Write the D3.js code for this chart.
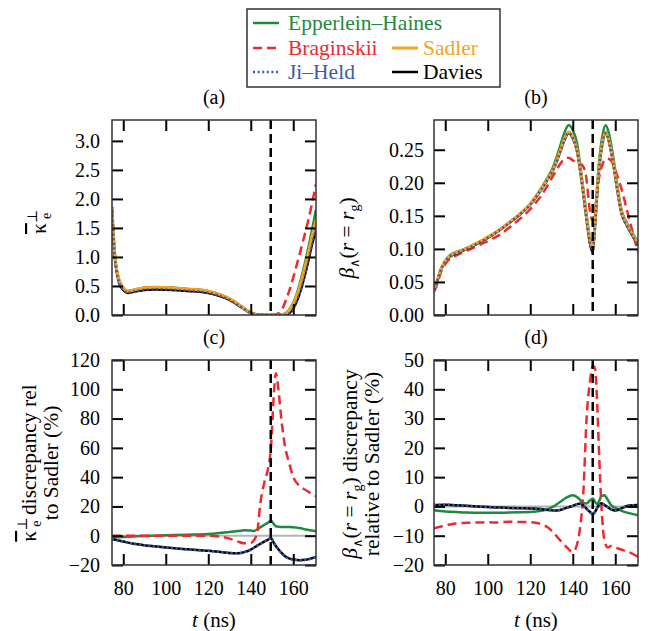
<!DOCTYPE html>
<html>
<head>
<meta charset="utf-8">
<script src="https://cdn.jsdelivr.net/npm/d3@7"></script>
<style>
  body { margin: 0; background: #fff; }
  #chart text { font-family: "Liberation Serif", "Times New Roman", Times, "DejaVu Serif", serif; }
</style>
</head>
<body>
<svg id="chart" width="651" height="631"></svg>
<script>
// ---- data ----
const xTicks = [80, 100, 120, 140, 160];
const tCut = 149.4; // vertical dashed marker

// (a) kappa_e perp
const tA = [74.7, 76, 77, 78, 80, 82, 85, 90, 95, 100, 110, 120, 125, 130, 134, 137, 140, 143, 146, 150, 153, 155, 157, 159, 161, 163, 165, 167, 169, 170.7];
const eppA = [1.87, 1.06, 0.77, 0.61, 0.475, 0.415, 0.435, 0.47, 0.48, 0.475, 0.45, 0.41, 0.36, 0.28, 0.19, 0.11, 0.04, 0.01, 0, 0, 0, 0.01, 0.05, 0.14, 0.3, 0.53, 0.82, 1.14, 1.5, 1.82];
const bragA = [1.86, 1.05, 0.76, 0.6, 0.47, 0.41, 0.43, 0.47, 0.48, 0.475, 0.45, 0.41, 0.36, 0.28, 0.19, 0.11, 0.04, 0.01, 0, 0, 0.03, 0.12, 0.3, 0.52, 0.78, 1.05, 1.33, 1.62, 1.95, 2.26];
const sadA = [1.85, 1.05, 0.76, 0.6, 0.47, 0.41, 0.43, 0.47, 0.48, 0.475, 0.45, 0.41, 0.36, 0.28, 0.19, 0.11, 0.04, 0.01, 0, 0, 0, 0.01, 0.04, 0.12, 0.27, 0.48, 0.75, 1.05, 1.38, 1.64];
const jiA = [1.8, 1.0, 0.72, 0.56, 0.435, 0.385, 0.405, 0.435, 0.445, 0.44, 0.42, 0.385, 0.335, 0.26, 0.17, 0.1, 0.035, 0.008, 0, 0, 0, 0, 0.01, 0.06, 0.18, 0.37, 0.62, 0.92, 1.24, 1.47];
const davA = [1.8, 1.0, 0.72, 0.56, 0.43, 0.38, 0.4, 0.43, 0.44, 0.435, 0.415, 0.38, 0.33, 0.26, 0.17, 0.1, 0.035, 0.008, 0, 0, 0, 0, 0.01, 0.06, 0.18, 0.37, 0.62, 0.92, 1.24, 1.45];

// (b) beta(r = r_g)
const tB = [74.7, 76, 78, 80, 82, 85, 90, 95, 100, 105, 110, 115, 120, 125, 128, 131, 134, 136, 138, 140, 142, 144, 146, 148, 149.3, 150.5, 152, 154, 155.5, 157, 159, 161, 163, 165, 167, 170.7];
const eppB = [0.04, 0.05, 0.07, 0.082, 0.09, 0.095, 0.101, 0.108, 0.117, 0.127, 0.139, 0.152, 0.168, 0.191, 0.207, 0.226, 0.255, 0.275, 0.287, 0.28, 0.26, 0.215, 0.165, 0.118, 0.105, 0.145, 0.218, 0.272, 0.287, 0.275, 0.24, 0.195, 0.158, 0.142, 0.13, 0.11];
const bragB = [0.035, 0.045, 0.065, 0.077, 0.085, 0.09, 0.097, 0.104, 0.112, 0.12, 0.132, 0.145, 0.16, 0.18, 0.195, 0.212, 0.228, 0.236, 0.238, 0.234, 0.23, 0.228, 0.215, 0.16, 0.143, 0.16, 0.2, 0.228, 0.236, 0.236, 0.228, 0.21, 0.19, 0.165, 0.14, 0.095];
const sadB = [0.04, 0.05, 0.07, 0.082, 0.089, 0.094, 0.101, 0.109, 0.118, 0.128, 0.14, 0.153, 0.168, 0.19, 0.205, 0.222, 0.248, 0.266, 0.277, 0.27, 0.25, 0.21, 0.16, 0.115, 0.1, 0.14, 0.21, 0.262, 0.277, 0.265, 0.232, 0.19, 0.155, 0.14, 0.128, 0.108];
const jiB = [0.039, 0.049, 0.069, 0.081, 0.088, 0.093, 0.1, 0.108, 0.117, 0.127, 0.139, 0.152, 0.167, 0.189, 0.204, 0.221, 0.246, 0.264, 0.275, 0.268, 0.248, 0.207, 0.157, 0.11, 0.096, 0.136, 0.207, 0.26, 0.275, 0.263, 0.23, 0.188, 0.153, 0.138, 0.126, 0.106];
const davB = [0.039, 0.049, 0.069, 0.081, 0.088, 0.093, 0.1, 0.108, 0.117, 0.127, 0.139, 0.152, 0.167, 0.189, 0.204, 0.221, 0.246, 0.264, 0.275, 0.268, 0.248, 0.207, 0.157, 0.11, 0.095, 0.136, 0.207, 0.26, 0.275, 0.263, 0.23, 0.188, 0.153, 0.138, 0.126, 0.106];

// (c) kappa discrepancy relative to Sadler (%)
const tC = [74.7, 80, 85, 90, 100, 110, 120, 125, 130, 134, 137, 140, 141.5, 143, 144.5, 146.5, 148, 149.5, 150.8, 151.8, 153, 154.5, 156, 158, 160, 163, 166, 170.7];
const eppC = [-1, -0.8, -0.5, -0.2, 0.3, 0.7, 1.2, 1.8, 2.5, 3.2, 3.8, 3.5, 3.3, 4.2, 5.8, 7.5, 8.8, 10.2, 8, 6.5, 6.2, 6, 6, 6, 5.8, 5.2, 4.2, 3];
const bragC = [0, 0, 0, 0, 0, 0, 0, -0.5, -2, -4, -5.2, -5, -3, 2, 22, 37, 45, 60, 95, 111, 100, 78, 62, 50, 40, 34, 31, 27];
const jiC = [-2.3, -4, -5.5, -6.5, -8, -9.3, -10.3, -11, -11.8, -12, -11.2, -9.5, -8.2, -6.8, -5.5, -3.9, -2.8, -1.5, -4.8, -7, -9.3, -11.8, -13.8, -15.5, -16.2, -16.7, -16.4, -14.5];
const davC = [-2.3, -4, -5.5, -6.5, -8, -9.3, -10.3, -11, -11.8, -12, -11.2, -9.5, -8.2, -6.8, -5.5, -3.9, -2.8, -1.5, -4.8, -7, -9.3, -11.8, -13.8, -15.5, -16.2, -16.7, -16.4, -14.5];

// (d) beta discrepancy relative to Sadler (%)
const tD = [74.7, 80, 85, 90, 95, 100, 105, 110, 115, 120, 125, 128, 131, 134, 137, 140, 142, 143.5, 145, 146.5, 148, 149.5, 150.5, 151.5, 152.5, 153.5, 155, 156.5, 158, 160, 163, 166, 170.7];
const eppD = [-1.3, -1.7, -1.9, -2.1, -2.2, -2.2, -2.2, -2.1, -2, -1.9, -1.5, -1, 0, 1.5, 3, 3.8, 3.2, 2.2, 1.2, 1, 2, 2.7, 1.5, 0.8, 2, 3.5, 3.8, 2.2, 0.5, -0.5, -1.5, -2.2, -3];
const bragD = [-7.5, -6.5, -5.8, -5.6, -5.5, -5.4, -5.5, -5.2, -5.3, -5.4, -6, -7, -9, -11.5, -13.8, -15.5, -13, -7, 5, 30, 42, 48, 47, 35, 16, 0, -12, -14, -13.5, -14, -14.8, -15.5, -17.2];
const jiD = [0.5, 0.6, 0.4, 0.2, 0, -0.2, -0.4, -0.5, -0.6, -0.7, -0.9, -1.2, -1.4, -1.2, -0.5, 0.2, 0.8, 1, 0.3, -0.8, -1.8, -2.6, -1.8, -0.5, 0.6, 1, 0.5, -0.3, -1, -1.4, -0.6, 0.2, 0.5];
const davD = [0.5, 0.6, 0.4, 0.2, 0, -0.2, -0.4, -0.5, -0.6, -0.7, -0.9, -1.2, -1.4, -1.2, -0.5, 0.2, 0.8, 1, 0.3, -0.8, -1.8, -2.6, -1.8, -0.5, 0.6, 1, 0.5, -0.3, -1, -1.4, -0.6, 0.2, 0.5];

// ---- styles ----
const styles = {
  epp:  { name: "Epperlein\u2013Haines", color: "#1e8a3e", dash: null, w: 2.5 },
  brag: { name: "Braginskii", color: "#ee2a30", dash: "9,5", w: 2.5 },
  sad:  { name: "Sadler", color: "#f7a21d", dash: null, w: 3 },
  ji:   { name: "Ji\u2013Held", color: "#3b5aab", dash: "2,2.6", w: 2.5 },
  dav:  { name: "Davies", color: "#000000", dash: null, w: 2.5 }
};
const order = ["epp", "brag", "dav", "sad", "ji"];

const svg = d3.select("#chart");
const W = 204;

const panels = [
  { tag: "(a)", x0: 112, y0: 120, h: 195, t: tA, data: { epp: eppA, brag: bragA, sad: sadA, ji: jiA, dav: davA },
    yDom: [0, 3.36], yTicks: [0, 0.5, 1, 1.5, 2, 2.5, 3], fmt: ".1f", yPad: 12, xLab: false, zero: false },
  { tag: "(b)", x0: 434, y0: 120, h: 195, t: tB, data: { epp: eppB, brag: bragB, sad: sadB, ji: jiB, dav: davB },
    yDom: [0, 0.295], yTicks: [0, 0.05, 0.1, 0.15, 0.2, 0.25], fmt: ".2f", yPad: 10, xLab: false, zero: false },
  { tag: "(c)", x0: 112, y0: 360, h: 205, t: tC, data: { epp: eppC, brag: bragC, ji: jiC, dav: davC },
    yDom: [-20, 120], yTicks: [-20, 0, 20, 40, 60, 80, 100, 120], fmt: "d", yPad: 12, xLab: true, zero: true },
  { tag: "(d)", x0: 434, y0: 360, h: 205, t: tD, data: { epp: eppD, brag: bragD, ji: jiD, dav: davD },
    yDom: [-20, 50], yTicks: [-20, -10, 0, 10, 20, 30, 40, 50], fmt: "d", yPad: 10, xLab: true, zero: true }
];

panels.forEach((p, i) => {
  const g = svg.append("g").attr("transform", `translate(${p.x0},${p.y0})`);
  const x = d3.scaleLinear().domain([74.7, 170.7]).range([0, W]);
  const y = d3.scaleLinear().domain(p.yDom).range([p.h, 0]);

  g.append("clipPath").attr("id", "clip" + i)
    .append("rect").attr("width", W).attr("height", p.h);
  const plot = g.append("g").attr("clip-path", `url(#clip${i})`);

  if (p.zero) {
    plot.append("line")
      .attr("x1", 0).attr("x2", W)
      .attr("y1", y(0)).attr("y2", y(0))
      .attr("stroke", "#b4b4b4").attr("stroke-width", 2);
  }

  const line = d3.line()
    .x((d, j) => x(p.t[j]))
    .y(d => y(d))
    .curve(d3.curveMonotoneX);

  order.forEach(k => {
    if (!p.data[k]) return;
    const s = styles[k];
    plot.append("path")
      .datum(p.data[k])
      .attr("d", line)
      .attr("fill", "none")
      .attr("stroke", s.color)
      .attr("stroke-width", s.w)
      .attr("stroke-dasharray", s.dash);
  });

  // marker line
  plot.append("line")
    .attr("x1", x(tCut)).attr("x2", x(tCut))
    .attr("y1", 0).attr("y2", p.h)
    .attr("stroke", "#000").attr("stroke-width", 2.5)
    .attr("stroke-dasharray", "9,5");

  // axes, ticks pointing inward on all sides
  g.append("g")
    .call(d3.axisLeft(y).tickValues(p.yTicks).tickFormat(d3.format(p.fmt)).tickSize(-11).tickPadding(p.yPad));
  g.append("g").attr("transform", `translate(${W},0)`)
    .call(d3.axisRight(y).tickValues(p.yTicks).tickFormat("").tickSize(-11));
  g.append("g").attr("transform", `translate(0,${p.h})`)
    .call(d3.axisBottom(x).tickValues(xTicks).tickFormat(p.xLab ? d3.format("d") : "").tickSize(-11).tickPadding(16));
  g.append("g")
    .call(d3.axisTop(x).tickValues(xTicks).tickFormat("").tickSize(-11));

  g.selectAll(".domain").remove();
  g.selectAll(".tick line").attr("stroke", "#000").attr("stroke-width", 2);
  g.selectAll(".tick text").attr("font-size", 20).attr("fill", "#000");

  g.append("rect")
    .attr("width", W).attr("height", p.h)
    .attr("fill", "none").attr("stroke", "#333").attr("stroke-width", 1.5);

  // panel tag
  svg.append("text")
    .attr("x", p.x0 + W / 2).attr("y", p.y0 - 16)
    .attr("text-anchor", "middle").attr("font-size", 20)
    .text(p.tag);

  if (p.xLab) {
    const xl = svg.append("text")
      .attr("x", p.x0 + W / 2).attr("y", 627)
      .attr("text-anchor", "middle").attr("font-size", 21);
    xl.append("tspan").attr("font-style", "italic").text("t");
    xl.append("tspan").text(" (ns)");
  }
});

// ---- y-axis labels ----
function kappa(txt) {
  txt.append("tspan").style("text-decoration", "overline").text("\u03ba");
  txt.append("tspan").attr("font-size", 14).attr("dy", -9).text("\u22a5");
  txt.append("tspan").attr("font-size", 14).attr("dx", -9).attr("dy", 14).text("e");
  return txt.append("tspan").attr("dy", -5);
}
function beta(txt) {
  txt.append("tspan").attr("font-style", "italic").text("\u03b2");
  txt.append("tspan").attr("font-size", 13).attr("dy", 5).text("\u2227");
  txt.append("tspan").attr("dy", -5).text("(");
  txt.append("tspan").attr("font-style", "italic").text("r");
  txt.append("tspan").text(" = ");
  txt.append("tspan").attr("font-style", "italic").text("r");
  txt.append("tspan").attr("font-size", 14).attr("dy", 5).text("g");
  return txt.append("tspan").attr("dy", -5).text(")");
}
function ylab(cx, cy) {
  return svg.append("text")
    .attr("transform", `translate(${cx},${cy}) rotate(-90)`)
    .attr("text-anchor", "middle").attr("font-size", 21.5);
}

kappa(ylab(46, 222));
beta(ylab(354, 238));

const lc1 = ylab(36, 463);
kappa(lc1).text(" discrepancy rel");
ylab(58, 463).text("to Sadler (%)");

const ld1 = ylab(357, 464);
beta(ld1);
ld1.append("tspan").text(" discrepancy");
ylab(379, 464).text("relative to Sadler (%)");

// ---- legend ----
const leg = svg.append("g");
leg.append("rect")
  .attr("x", 247).attr("y", 9).attr("width", 253).attr("height", 78)
  .attr("fill", "#fff").attr("stroke", "#333").attr("stroke-width", 1.5);
const legItems = [
  { k: "epp", x: 253, y: 23 },
  { k: "brag", x: 253, y: 48 },
  { k: "sad", x: 392, y: 48 },
  { k: "ji", x: 253, y: 72 },
  { k: "dav", x: 392, y: 72 }
];
legItems.forEach(it => {
  const s = styles[it.k];
  leg.append("line")
    .attr("x1", it.x).attr("x2", it.x + 26)
    .attr("y1", it.y).attr("y2", it.y)
    .attr("stroke", s.color).attr("stroke-width", s.w)
    .attr("stroke-dasharray", s.dash);
  leg.append("text")
    .attr("x", it.x + (it.k === "sad" || it.k === "dav" ? 31 : 35))
    .attr("y", it.y + 7)
    .attr("font-size", 21.5)
    .attr("fill", it.k === "dav" ? "#000" : s.color)
    .text(s.name);
});
</script>
</body>
</html>
